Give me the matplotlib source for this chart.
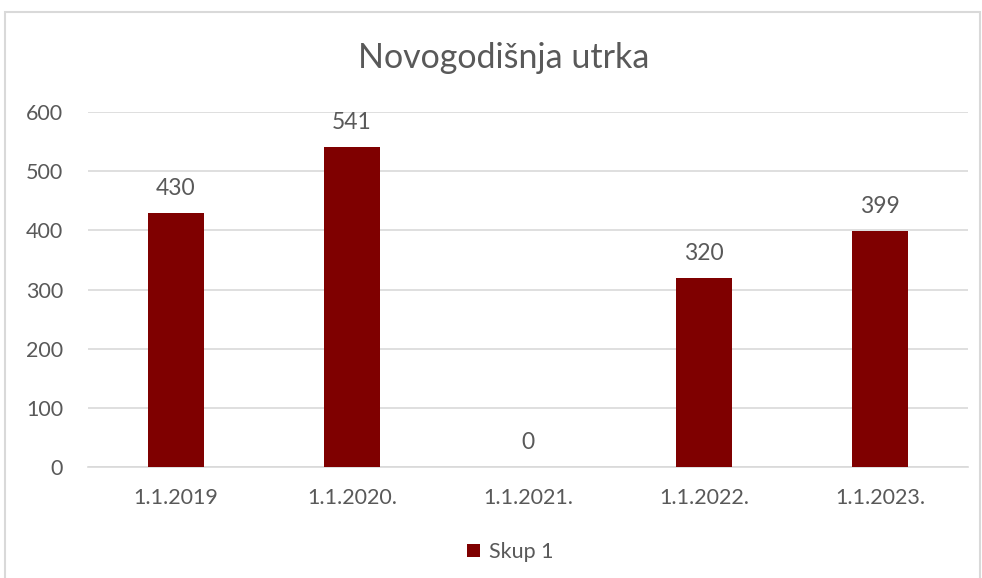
import matplotlib
matplotlib.use("Agg")
import matplotlib.pyplot as plt
from matplotlib.patches import Rectangle

categories = ["1.1.2019", "1.1.2020.", "1.1.2021.", "1.1.2022.", "1.1.2023."]
values = [430, 541, 0, 320, 399]
series_name = "Skup 1"
title = "Novogodišnja utrka"
yticks = [0, 100, 200, 300, 400, 500, 600]

plt.rcParams['font.family'] = ['Lato', 'DejaVu Sans']
txt = "#595959"
grid = "#d9d9d9"
bar_color = "#7f0000"

fig = plt.figure(figsize=(9.82, 5.78), dpi=100)
fig.patches.append(Rectangle((5/982, -0.01), 975/982, 1 - 12/578 + 0.01, transform=fig.transFigure,
                             fill=False, edgecolor=grid, linewidth=1.5))
ax = fig.add_axes([88/982, 1 - 467/578, 880/982, 355/578])
x = list(range(len(categories)))
bars = ax.bar(x, values, width=0.32, color=bar_color, label=series_name, zorder=3)
for xi, v in zip(x, values):
    ax.annotate(str(v), (xi, v), xytext=(0, 10), textcoords="offset points",
                ha="center", va="bottom", fontsize=16.5, color=txt)
ax.set_xlim(-0.5, len(categories) - 0.5)
ax.set_ylim(0, 600)
ax.set_yticks(yticks)
ax.set_xticks(x)
ax.set_xticklabels(categories)
ax.tick_params(axis="both", length=0, labelsize=15.5, colors=txt)
ax.tick_params(axis="y", pad=18)
ax.tick_params(axis="x", pad=15)
ax.yaxis.grid(True, color=grid, linewidth=1.2, zorder=0)
for s in ["left", "right", "top"]:
    ax.spines[s].set_visible(False)
ax.spines["bottom"].set_color(grid)
ax.spines["bottom"].set_linewidth(1.2)
fig.text(504/982, 1 - 58/578, title, ha="center", va="center", fontsize=24.5, color=txt)
fig.legend(handles=[bars], labels=[series_name], loc="center", bbox_to_anchor=(510/982, 1 - 552/578),
           frameon=False, fontsize=15.5, labelcolor=txt, handlelength=0.6, handleheight=0.6, handletextpad=0.4)
fig.savefig("out.png", dpi=100)
